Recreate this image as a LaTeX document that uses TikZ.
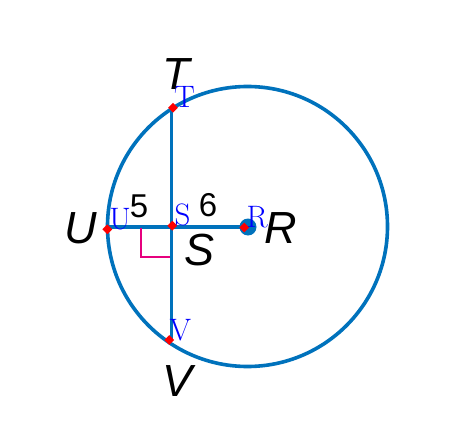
\documentclass[tikz,border=0pt]{standalone}
\usepackage{fontspec}
\newfontfamily\labfont{Liberation Sans}
\usetikzlibrary{shapes.geometric}
\definecolor{geoblue}{RGB}{0,114,188}
\definecolor{angmag}{RGB}{230,0,126}
\definecolor{ptblue}{RGB}{0,0,255}
\tikzset{
  geoline/.style={draw=geoblue, line width=3.6pt},
  redmark/.style={diamond, fill=red, inner sep=0pt, minimum width=10pt, minimum height=10pt},
  ptlabel/.style={text=ptblue, inner sep=0pt, anchor=base west, font=\fontsize{31}{31}\selectfont},
  biglabel/.style={inner sep=0pt, font=\labfont\itshape\fontsize{45}{45}\selectfont},
  numlabel/.style={inner sep=0pt, font=\labfont\fontsize{33}{33}\selectfont},
  rightang/.style={draw=angmag, line width=2.4pt}
}
\begin{document}
\begin{tikzpicture}[x=1pt,y=-1pt]
\useasboundingbox (0,0) rectangle (467,439);
% geometry
\coordinate (C) at (247.5,226.5);
\coordinate (lT) at (171.5,107);
\coordinate (lV) at (171.5,340);
\coordinate (lU) at (108,227);
\coordinate (lR) at (248,227);
\coordinate (a1) at (141,228);
\coordinate (a2) at (141,257);
\coordinate (a3) at (170,257);
\draw[geoline] (C) circle[radius=140pt];
\draw[geoline] (lT) -- (lV);
\draw[geoline] (lU) -- (lR);
\fill[geoblue] (248,227) circle[radius=8.5pt];
\draw[rightang] (a1) -- (a2) -- (a3);
% red point marks
\node[redmark] (pT) at (173,107.7) {};
\node[redmark] (pU) at (107.3,229.3) {};
\node[redmark] (pS) at (172.3,225.7) {};
\node[redmark] (pR) at (244.3,227.5) {};
\node[redmark] (pV) at (169.3,340) {};
% blue point labels
\node[ptlabel, xshift=1pt] (tT) at (pT) {T};
\node[ptlabel, xshift=2pt] (tU) at (pU) {U};
\node[ptlabel, xshift=2pt] (tS) at (pS) {S};
\node[ptlabel, xshift=2pt] (tR) at (pR) {R};
\node[ptlabel] (tV) at (pV) {V};
% black labels
\node[biglabel] (LT) at (176,74) {T};
\node[biglabel] (LU) at (81,228) {U};
\node[biglabel] (LS) at (200,250) {S};
\node[biglabel] (LR) at (281,228) {R};
\node[biglabel] (LV) at (178,381) {V};
\node[numlabel] (n5) at (139,206) {5};
\node[numlabel] (n6) at (208,205) {6};
\end{tikzpicture}
\end{document}
